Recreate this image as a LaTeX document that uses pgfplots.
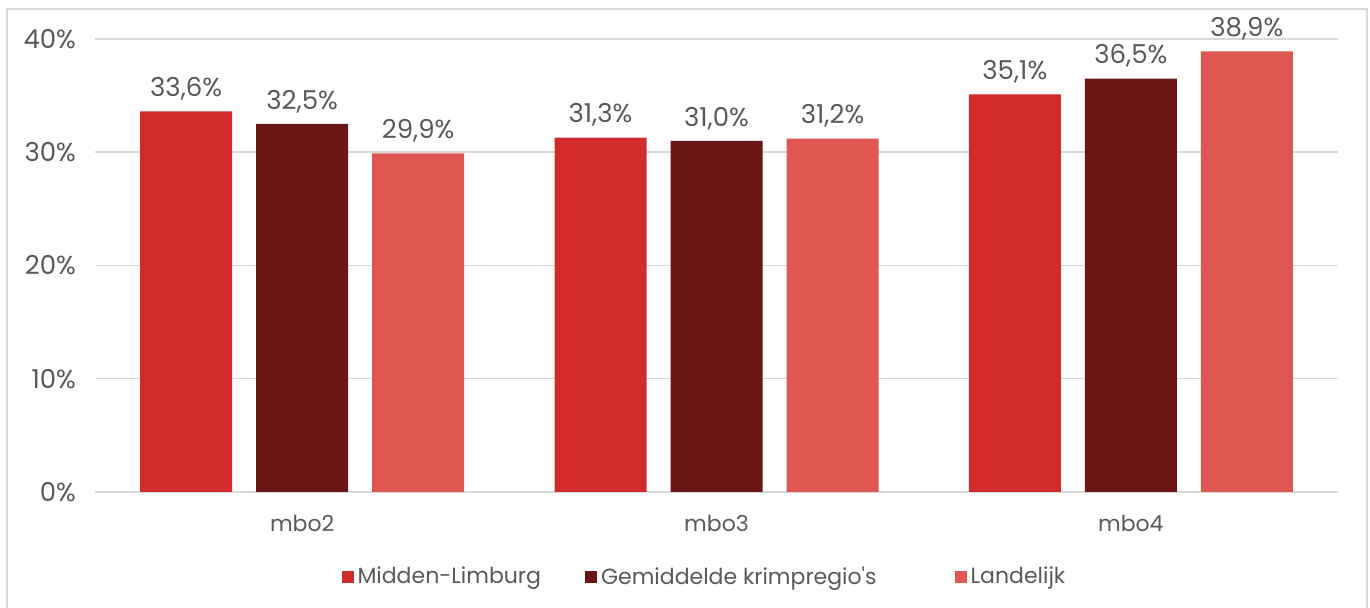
\documentclass[border=0pt]{standalone}
\usepackage{fontspec}
\setmainfont{Poppins}[Ligatures=TeXOff]
\usepackage{pgfplots}
\pgfplotsset{compat=1.18}
\definecolor{cRed}{HTML}{D12B2B}
\definecolor{cDark}{HTML}{6B1515}
\definecolor{cLight}{HTML}{DF5653}
\definecolor{cText}{HTML}{595959}
\definecolor{cGrid}{HTML}{D9D9D9}
\begin{document}
\begin{tikzpicture}
  % page = 1370x608 px at 0.5pt per px
  \useasboundingbox (-47.5pt,-58pt) rectangle (637.5pt,246pt);
  \draw[cGrid, line width=1pt] (-44pt,-62pt) rectangle (636pt,241.5pt);
  \begin{axis}[
    at={(0pt,0pt)}, anchor=south west,
    scale only axis,
    width=621.5pt, height=226.5pt,
    ybar=12pt,
    bar width=46pt,
    xmin=-0.5, xmax=2.5,
    ymin=0, ymax=40,
    xtick={0,1,2},
    xticklabels={mbo2,mbo3,mbo4},
    ytick={0,10,20,30,40},
    yticklabel={\pgfmathprintnumber{\tick}\%},
    major tick length=0pt,
    axis line style={draw=none},
    ymajorgrids,
    grid style={cGrid, line width=0.75pt},
    tick label style={font=\fontsize{13}{15}\selectfont, text=cText},
    xticklabel style={font=\fontsize{11}{13}\selectfont, yshift=-8pt},
    yticklabel style={xshift=-6pt},
    /pgf/number format/assume math mode=true,
    clip=false,
    nodes near coords={\pgfmathprintnumber[fixed,fixed zerofill,precision=1,use comma]{\pgfplotspointmeta}\%},
    every node near coord/.append style={font=\fontsize{13}{15}\selectfont, text=cText, yshift=2pt},
    legend style={at={(0.198,-0.1876)}, anchor=west, draw=none, fill=none,
      inner sep=0pt, legend columns=3, font=\fontsize{11}{13}\selectfont, text=cText,
      /tikz/column 2/.style={column sep=20pt},
      /tikz/column 4/.style={column sep=37pt}},
    legend image code/.code={\fill[#1] (0pt,-3pt) rectangle (6pt,3pt);},
  ]
    \addplot[fill=cRed, draw=none] coordinates {(0,33.6) (1,31.3) (2,35.1)};
    \addplot[fill=cDark, draw=none] coordinates {(0,32.5) (1,31.0) (2,36.5)};
    \addplot[fill=cLight, draw=none] coordinates {(0,29.9) (1,31.2) (2,38.9)};
    \legend{Midden-Limburg, Gemiddelde krimpregio's, Landelijk}
  \end{axis}
\end{tikzpicture}
\end{document}
